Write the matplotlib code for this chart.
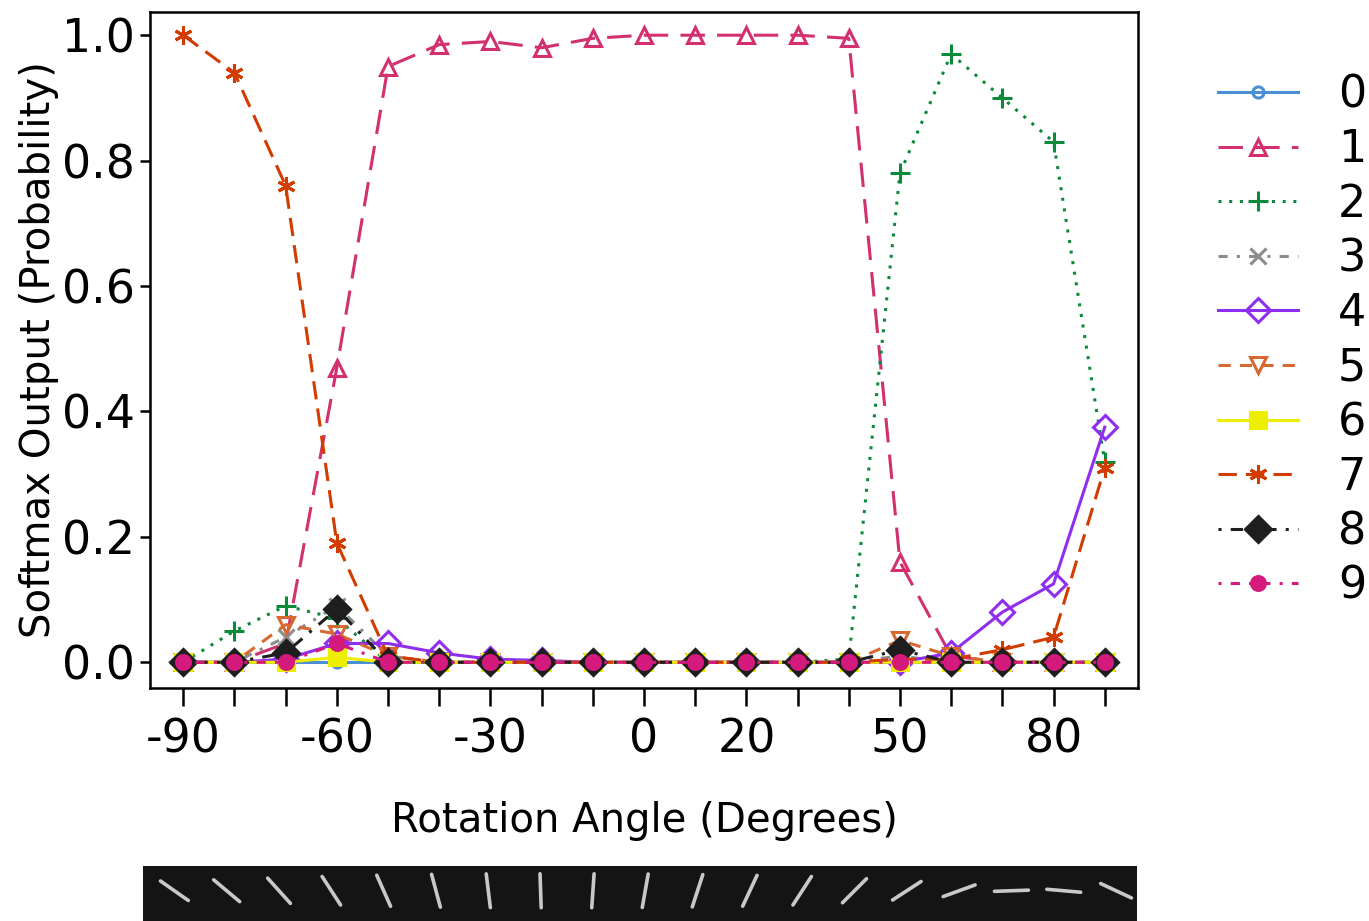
import numpy as np
import matplotlib.pyplot as plt

# rotation angles (degrees)
angles = list(range(-90, 91, 10))
tick_labels = {-90: "-90", -60: "-60", -30: "-30", 0: "0", 20: "20", 50: "50", 80: "80"}

# softmax output per class
p0 = [0] * 19
p1 = [0, 0, 0.03, 0.47, 0.95, 0.985, 0.99, 0.98, 0.995, 1.0, 1.0, 1.0, 1.0, 0.995, 0.16, 0.01, 0, 0, 0]
p2 = [0, 0.05, 0.09, 0.07, 0, 0, 0, 0, 0, 0, 0, 0, 0, 0.005, 0.78, 0.97, 0.90, 0.83, 0.32]
p3 = [0, 0, 0.04, 0.09, 0.01, 0, 0, 0, 0, 0, 0, 0, 0, 0, 0.01, 0, 0, 0, 0]
p4 = [0, 0, 0.005, 0.03, 0.03, 0.015, 0.005, 0.003, 0, 0, 0, 0, 0, 0, 0, 0.015, 0.08, 0.125, 0.375]
p5 = [0, 0, 0.06, 0.045, 0.01, 0, 0, 0, 0, 0, 0, 0, 0, 0, 0.035, 0.01, 0, 0, 0]
p6 = [0, 0, 0, 0.008, 0, 0, 0, 0, 0, 0, 0, 0, 0, 0, 0, 0, 0, 0, 0]
p7 = [1.0, 0.94, 0.76, 0.19, 0.01, 0, 0, 0, 0, 0, 0, 0, 0, 0, 0.005, 0.005, 0.02, 0.04, 0.31]
p8 = [0, 0, 0.015, 0.085, 0, 0, 0, 0, 0, 0, 0, 0, 0, 0, 0.02, 0, 0, 0, 0]
p9 = [0, 0, 0, 0.03, 0, 0, 0, 0, 0, 0, 0, 0, 0, 0, 0, 0, 0, 0, 0]
probs = [p0, p1, p2, p3, p4, p5, p6, p7, p8, p9]

# tilt of the rotated digit stroke in the thumbnail strip (deg from vertical)
stroke_tilt = [-55, -50, -42, -33, -24, -15, -7, -2, 4, 10, 18, 25, 33, 45, 57, 70, 88, 95, 115]

colors = ["#4a8fd6", "#d3306f", "#0b8a3a", "#8c8c8c", "#8f2ef0",
          "#d5692f", "#eeee00", "#d23c00", "#1e1e1e", "#d41a7c"]
styles = ["-", (0, (8, 4)), (0, (1, 2.5)), (0, (3, 3, 1, 3)), "-",
          (0, (4, 3)), "-", (0, (6, 3)), (0, (1, 3, 4, 3)), (0, (1, 3, 3, 3))]
markers = ["o", "^", "+", "x", "D", "v", "s", (6, 2, 0), "D", "o"]
msizes = [8, 11, 14, 12, 12, 11, 11, 13, 13, 10]
mfcs = ["none", "none", "none", "none", "none", "none", "#eeee00", "#d23c00", "#1e1e1e", "#d41a7c"]

plt.rcParams['font.family'] = ['DejaVu Sans']

fig = plt.figure(figsize=(13.69, 9.21), dpi=100)
ax = fig.add_axes([150 / 1369, 1 - 688 / 921, 988 / 1369, 676 / 921])

for k in range(10):
    ax.plot(angles, probs[k], color=colors[k], linestyle=styles[k], linewidth=2.2,
            marker=markers[k], markersize=msizes[k], markerfacecolor=mfcs[k],
            markeredgecolor=colors[k], markeredgewidth=2.2, label=str(k))

ax.set_xlim(-96.5, 96.5)
ax.set_ylim(-0.041, 1.037)
ax.set_xticks(angles)
ax.set_xticklabels([tick_labels.get(a, "") for a in angles])
ax.set_yticks([0, 0.2, 0.4, 0.6, 0.8, 1.0])
ax.set_yticklabels(["0.0", "0.2", "0.4", "0.6", "0.8", "1.0"])
ax.tick_params(axis='x', direction='out', length=13, width=1.8, labelsize=33, pad=8)
ax.tick_params(axis='y', direction='out', length=7, width=1.8, labelsize=33, pad=4)
for s in ax.spines.values():
    s.set_linewidth(1.8)
ax.set_xlabel("Rotation Angle (Degrees)", fontsize=29, labelpad=28)
ax.set_ylabel("Softmax Output (Probability)", fontsize=29, labelpad=2)

fig.legend(loc='upper left', bbox_to_anchor=(1200 / 1369, 1 - 56 / 921), frameon=False,
           fontsize=32, handlelength=1.8, handletextpad=0.9, labelspacing=0.26,
           borderaxespad=0)

# thumbnail strip of rotated digits
sx = fig.add_axes([143 / 1369, 0, 994 / 1369, 55 / 921])
sx.set_facecolor("#141414")
sx.set_xlim(0, 19)
sx.set_ylim(0, 1)
sx.set_xticks([])
sx.set_yticks([])
for s in sx.spines.values():
    s.set_visible(False)
px_x = 994 / 19.0
px_y = 55.0
half = 17
for i, t in enumerate(stroke_tilt):
    th = np.deg2rad(t)
    dx = half * np.sin(th) / px_x
    dy = half * np.cos(th) / px_y
    cx, cy = i + 0.6, 0.55
    sx.plot([cx - dx, cx + dx], [cy - dy, cy + dy], color="#c8c8c8", linewidth=2.6,
            solid_capstyle='round')

fig.savefig("out.png", dpi=100)
